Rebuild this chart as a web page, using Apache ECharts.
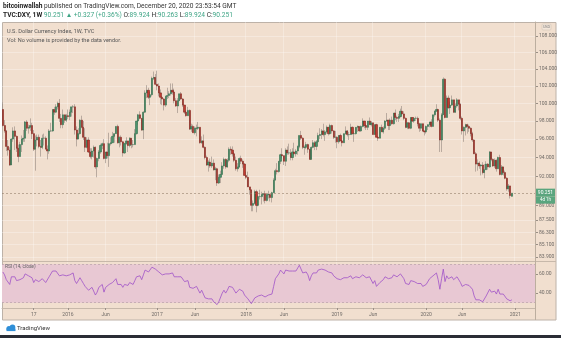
<!DOCTYPE html>
<html><head><meta charset="utf-8">
<script src="https://cdn.jsdelivr.net/npm/echarts@6/dist/echarts.min.js"></script>
<style>html,body{margin:0;padding:0;background:#fff;}#c{width:561px;height:338px;}</style>
</head><body><div id="c"></div>
<script>
// Weekly TVC:DXY candles, week of 2015-04-13 .. week of 2020-12-21
const opens = [
99.3,97.5,96.9,95.2,94.8,93.2,96.0,96.9,96.3,95.0,
94.1,95.4,96.0,96.1,97.9,97.2,97.3,97.5,96.6,94.9,
95.9,96.2,95.2,95.1,96.1,96.1,94.9,94.7,96.9,96.9,
99.3,99.0,99.6,100.0,98.3,97.6,98.7,98.1,98.6,98.5,
99.0,99.6,99.6,97.0,96.0,96.6,98.1,97.3,96.2,95.1,
95.9,94.6,94.1,94.7,95.1,93.0,93.9,94.6,95.3,95.5,
93.9,94.6,94.2,95.5,95.6,96.3,96.6,97.4,95.6,96.2,
95.7,94.5,95.5,95.8,95.3,96.1,95.4,95.4,96.6,98.0,
98.7,98.3,97.0,99.0,101.2,101.5,100.7,101.0,102.9,103.0,
102.2,102.0,101.2,100.7,100.5,99.8,100.8,100.9,101.1,101.5,
101.3,100.3,99.7,100.3,101.1,100.5,99.8,99.0,98.6,99.2,
97.1,97.4,96.7,97.2,97.2,97.3,95.6,95.8,95.1,94.0,
93.2,93.5,93.1,93.4,92.7,92.8,91.3,91.9,92.2,93.1,
93.8,93.0,93.7,94.9,94.8,94.4,93.7,92.8,93.0,93.9,
93.6,93.3,92.1,91.9,90.9,90.6,89.0,89.2,90.4,89.0,
89.9,89.9,90.1,90.2,89.5,90.1,90.1,89.8,90.3,91.6,
92.6,92.5,93.6,94.3,94.2,93.6,94.8,94.5,94.5,94.0,
94.6,94.4,94.7,95.2,96.4,96.1,95.1,95.1,95.4,94.9,
93.8,95.1,95.6,95.2,95.7,96.4,96.5,96.9,96.5,96.8,
97.3,96.6,97.5,96.9,96.2,96.2,95.7,96.4,95.8,95.6,
96.6,96.9,96.5,96.5,97.3,96.6,96.6,97.3,97.4,96.9,
97.4,98.0,97.5,97.3,98.0,97.6,97.8,96.5,97.6,96.2,
96.1,97.3,96.8,97.2,98.0,98.1,97.5,98.1,97.7,98.9,
98.4,98.3,98.5,99.1,98.8,98.3,97.3,97.8,97.2,98.4,
98.0,98.3,98.3,97.7,97.2,97.7,96.9,96.8,97.4,97.6,
97.9,97.4,98.7,99.1,99.3,98.1,95.9,98.7,102.8,98.4,
100.6,99.5,99.8,100.4,99.0,99.7,100.4,99.9,98.3,96.9,
97.3,97.6,97.4,97.2,96.6,95.9,94.4,93.3,93.4,93.1,
93.2,92.4,92.7,93.3,93.0,94.6,93.8,93.1,93.7,92.8,
94.0,92.2,93.0,92.4,91.8,90.7,91.0,89.924];
const closes = [
97.5,96.9,95.2,94.8,93.2,96.0,96.9,96.3,95.0,94.1,
95.4,96.0,96.1,97.9,97.2,97.3,97.5,96.6,94.9,95.9,
96.2,95.2,95.1,96.1,96.1,94.9,94.7,96.9,96.9,99.3,
99.0,99.6,100.0,98.3,97.6,98.7,98.1,98.6,98.5,99.0,
99.6,99.6,97.0,96.0,96.6,98.1,97.3,96.2,95.1,95.9,
94.6,94.1,94.7,95.1,93.0,93.9,94.6,95.3,95.5,93.9,
94.6,94.2,95.5,95.6,96.3,96.6,97.4,95.6,96.2,95.7,
94.5,95.5,95.8,95.3,96.1,95.4,95.4,96.6,98.0,98.7,
98.3,97.0,99.0,101.2,101.5,100.7,101.0,102.9,103.0,102.2,
102.0,101.2,100.7,100.5,99.8,100.8,100.9,101.1,101.5,101.3,
100.3,99.7,100.3,101.1,100.5,99.8,99.0,98.6,99.2,97.1,
97.4,96.7,97.2,97.2,97.3,95.6,95.8,95.1,94.0,93.2,
93.5,93.1,93.4,92.7,92.8,91.3,91.9,92.2,93.1,93.8,
93.0,93.7,94.9,94.8,94.4,93.7,92.8,93.0,93.9,93.6,
93.3,92.1,91.9,90.9,90.6,89.0,89.2,90.4,89.0,89.9,
89.9,90.1,90.2,89.5,90.1,90.1,89.8,90.3,91.6,92.6,
92.5,93.6,94.3,94.2,93.6,94.8,94.5,94.5,94.0,94.6,
94.4,94.7,95.2,96.4,96.1,95.1,95.1,95.4,94.9,93.8,
95.1,95.6,95.2,95.7,96.4,96.5,96.9,96.5,96.8,97.3,
96.6,97.5,96.9,96.2,96.2,95.7,96.4,95.8,95.6,96.6,
96.9,96.5,96.5,97.3,96.6,96.6,97.3,97.4,96.9,97.4,
98.0,97.5,97.3,98.0,97.6,97.8,96.5,97.6,96.2,96.1,
97.3,96.8,97.2,98.0,98.1,97.5,98.1,97.7,98.9,98.4,
98.3,98.5,99.1,98.8,98.3,97.3,97.8,97.2,98.4,98.0,
98.3,98.3,97.7,97.2,97.7,96.9,96.8,97.4,97.6,97.9,
97.4,98.7,99.1,99.3,98.1,95.9,98.7,102.8,98.4,100.6,
99.5,99.8,100.4,99.0,99.7,100.4,99.9,98.3,96.9,97.3,
97.6,97.4,97.2,96.6,95.9,94.4,93.3,93.4,93.1,93.2,
92.4,92.7,93.3,93.0,94.6,93.8,93.1,93.7,92.8,94.0,
92.2,93.0,92.4,91.8,90.7,91.0,90.0,90.251];
const highs = [
100.1,98.1,97.0,95.9,95.1,96.1,97.3,97.4,96.4,95.4,
95.7,96.4,97.0,98.0,98.1,97.6,98.3,97.8,97.0,96.4,
96.5,96.5,95.9,96.5,96.6,96.3,95.3,97.1,97.8,99.3,
99.6,99.9,100.2,100.5,98.8,99.3,98.7,98.8,99.3,99.3,
99.6,99.8,99.9,97.4,97.2,98.2,98.6,98.0,97.2,96.2,
96.2,95.0,95.0,95.3,95.2,94.0,94.8,95.5,95.6,96.0,
94.6,95.6,96.7,96.2,96.8,96.6,97.4,97.6,96.3,96.4,
95.8,95.6,96.2,95.8,96.2,96.1,95.9,97.1,98.0,98.8,
99.1,98.3,99.1,101.5,102.1,101.8,101.3,103.1,103.7,103.4,
103.8,102.3,101.6,100.8,100.6,100.9,101.8,101.4,102.3,102.3,
101.7,100.6,100.6,101.1,101.3,100.6,99.8,99.2,99.6,99.3,
97.7,97.6,97.4,97.6,97.9,97.3,96.3,96.5,95.2,94.2,
93.7,93.9,94.1,93.8,93.0,92.9,92.2,92.6,93.5,94.0,
93.9,93.9,95.1,95.2,95.2,94.6,94.1,93.4,94.0,94.2,
93.8,93.4,92.5,92.5,90.9,90.6,89.5,90.6,90.6,90.0,
90.6,90.4,90.2,90.5,90.2,90.5,90.2,90.4,91.8,92.8,
93.4,93.6,94.4,95.0,94.2,95.0,95.2,95.5,94.9,95.0,
95.6,94.9,95.3,96.4,96.9,96.2,95.3,95.7,95.5,94.9,
95.2,95.9,95.8,95.9,96.7,97.2,97.1,97.7,97.0,97.5,
97.3,97.7,97.6,97.0,96.9,96.3,96.4,96.6,95.9,96.6,
97.4,97.0,96.8,97.7,97.4,96.8,97.3,97.5,97.4,97.5,
98.3,98.0,97.7,98.0,98.4,98.0,97.8,97.6,97.7,96.3,
97.3,97.6,97.4,98.1,98.9,98.1,98.3,98.5,98.9,99.3,
98.6,98.8,99.4,99.7,99.1,98.4,97.9,97.9,98.4,98.4,
98.4,98.5,98.5,97.8,97.7,97.7,96.9,97.5,97.6,97.9,
98.2,98.7,99.2,99.9,99.4,98.3,98.9,103.0,102.9,100.9,
100.9,100.2,100.9,100.4,100.0,100.6,100.4,100.0,98.5,97.4,
97.7,97.7,97.6,97.3,96.8,96.0,94.6,93.8,93.6,93.3,
93.5,93.3,93.6,93.4,94.7,94.6,93.9,93.9,93.8,94.1,
94.3,93.2,93.0,92.6,91.9,91.2,91.0,90.263];
const lows = [
97.4,96.7,94.7,94.2,93.1,93.2,95.7,94.8,94.6,93.5,
94.1,94.6,95.7,95.7,96.9,96.6,96.9,96.0,94.7,92.6,
95.2,95.0,94.1,94.9,95.3,94.9,93.8,94.4,96.8,96.8,
98.7,98.9,99.3,97.9,97.2,97.2,97.8,97.9,98.2,98.1,
98.5,98.9,96.5,95.2,96.0,96.5,97.2,95.9,94.6,95.0,
94.5,93.9,93.8,94.0,92.8,91.9,93.6,94.4,94.9,93.8,
93.4,93.9,93.0,95.3,95.6,95.6,96.6,95.5,95.1,95.3,
94.1,94.4,95.4,94.6,95.1,95.0,95.1,95.4,96.5,97.6,
98.2,96.9,96.0,98.9,100.6,100.5,99.8,100.8,102.7,102.1,
101.5,100.8,99.9,99.8,99.2,99.6,100.5,100.6,100.9,101.0,
100.0,99.6,98.9,100.3,100.4,99.6,98.8,98.5,98.6,97.0,
96.8,96.7,96.5,96.3,97.0,95.5,95.5,95.0,93.8,93.1,
92.5,92.9,92.9,92.6,91.6,91.0,91.2,91.3,92.2,92.8,
92.8,92.9,93.5,94.3,94.1,93.5,92.6,92.5,92.9,93.3,
92.9,92.1,91.7,90.9,90.1,88.4,88.4,89.1,88.3,88.9,
89.6,89.1,89.4,89.2,89.4,89.7,89.4,89.3,90.3,91.6,
92.2,92.4,93.3,93.9,93.2,93.1,94.3,94.3,93.7,93.7,
94.2,94.1,94.3,95.0,95.9,94.9,94.3,94.9,94.5,93.8,
93.8,95.0,94.8,94.8,95.7,96.0,96.0,96.3,95.8,96.6,
96.4,96.5,96.6,96.0,95.6,95.0,95.5,95.8,95.2,95.6,
96.5,96.3,95.9,96.5,96.5,95.7,96.5,96.8,96.8,96.8,
97.3,97.2,97.0,97.0,97.6,97.4,96.5,96.5,96.2,95.8,
96.1,96.8,96.6,97.0,97.9,97.0,97.0,97.6,97.6,98.1,
97.9,97.9,98.4,98.6,98.1,97.2,97.1,97.1,97.1,97.9,
97.8,98.0,97.4,96.8,96.9,96.8,96.4,96.6,97.0,97.3,
97.3,97.4,98.5,99.1,97.9,94.6,94.6,98.7,98.3,98.4,
99.4,98.8,99.7,98.9,98.9,99.5,99.2,98.1,96.5,95.7,
96.4,96.6,96.8,96.3,95.7,94.4,92.5,92.6,92.8,92.1,
92.2,91.8,92.7,92.7,92.9,93.6,93.0,92.9,92.5,92.8,
92.1,92.1,92.1,91.7,90.5,90.4,89.7,89.924];
// RSI (14, close)
const rsiValues = [
62,59,54,53,49,57,59,57,53,51,
54,56,56,60,58,58,59,56,51,54,
55,52,52,55,55,51,51,57,57,63,
62,63,64,58,56,59,57,58,58,59,
61,61,53,50,52,56,53,50,47,49,
43,41,46,47,38,41,46,48,49,41,
46,45,49,49,51,52,55,49,51,49,
46,49,50,48,51,49,49,53,57,59,
58,54,59,64,65,62,63,67,69,65,
64,62,60,59,57,60,60,60,61,61,
57,55,57,59,57,55,52,51,53,46,
47,45,47,47,47,40,43,39,35,33,
34,32,34,31,32,28,31,32,40,43,
40,43,47,47,46,43,40,41,44,43,
42,38,37,34,33,29,30,35,34,37,
37,38,38,36,38,38,37,39,47,55,
54,60,64,63,60,64,63,63,61,63,
62,63,64,69,67,61,61,62,59,53,
58,61,59,61,64,64,65,63,64,65,
62,64,61,58,57,55,56,54,53,56,
57,56,56,58,55,55,57,58,56,57,
59,57,56,58,57,57,50,53,47,46,
51,53,54,57,57,55,57,56,59,57,
57,58,60,59,55,50,52,49,53,51,
52,52,50,48,50,47,47,49,50,55,
53,58,60,61,54,44,55,65,52,58,
55,56,57,54,55,57,56,51,47,48,
49,48,48,46,44,37,33,34,33,33,
31,33,37,36,44,41,40,42,39,44,
39,41,39,37,34,35,32,33];
const priceTicks = [108,106,104,102,100,98,96,94,92,89,87.5,86.3,85.1,83.9];
const rsiTicks = [60,40];
const timeTickLabels = {'2015-08-17':'17','2016-01-04':'2016','2016-06-06':'Jun','2017-01-02':'2017','2017-06-05':'Jun','2018-01-01':'2018','2018-06-04':'Jun','2019-01-07':'2019','2019-06-03':'Jun','2020-01-06':'2020','2020-06-01':'Jun','2021-01-04':'2021'};
const lastPrice = 90.251;
const blankWeeks = 13;

const dates = [];
const t0 = Date.UTC(2015,3,13);
for (let i = 0; i < closes.length + blankWeeks; i++) dates.push(new Date(t0 + i*7*86400000).toISOString().slice(0,10));

const wickData = opens.map((o,i)=>[o, closes[i], lows[i], highs[i]]);
const bodyData = opens.map((o,i)=>[o, closes[i], Math.min(o,closes[i]), Math.max(o,closes[i])]);

const FONT = 'Roboto, Arial, sans-serif';
const isLabelDate = (idx, v) => timeTickLabels[v] !== undefined;
const BG = '#f1dfcf';

const chart = echarts.init(document.getElementById('c'), null, {renderer:'canvas'});
const option = {
  animation: false,
  backgroundColor: '#ffffff',
  textStyle: {fontFamily: FONT},
  grid: [
    {left: 2, width: 533, top: 22, height: 239},
    {left: 2, width: 533, top: 261, height: 47}
  ],
  xAxis: [
    {type:'category', gridIndex:0, data: dates, boundaryGap: true,
     axisLine:{show:false}, axisLabel:{show:false},
     axisTick:{show:false, alignWithLabel:true, interval:isLabelDate},
     splitLine:{show:true, interval:isLabelDate, lineStyle:{color:'rgba(255,255,255,0.28)', width:1}}},
    {type:'category', gridIndex:1, data: dates, boundaryGap: true,
     axisLine:{show:true, lineStyle:{color:'#c7b8aa', width:1}},
     axisTick:{show:true, alignWithLabel:true, interval:isLabelDate, length:2, lineStyle:{color:'#9a8f86'}},
     axisLabel:{show:true, interval:isLabelDate, formatter:(v)=>timeTickLabels[v]||'', fontSize:5, color:'#6f6a66', margin:4},
     splitLine:{show:true, interval:isLabelDate, lineStyle:{color:'rgba(255,255,255,0.22)', width:1}}}
  ],
  yAxis: [
    {type:'log', gridIndex:0, position:'right', min:83.52, max:109.74, logBase:10,
     axisLine:{show:true, lineStyle:{color:'#bcae9f'}},
     axisTick:{show:true, length:3, customValues: priceTicks, lineStyle:{color:'#9a8f86'}},
     axisLabel:{show:true, customValues: priceTicks, formatter:(v)=>Number(v).toFixed(3), fontSize:5, color:'#6f6a66', margin:4},
     splitLine:{show:true, lineStyle:{color:'rgba(255,255,255,0.3)', width:1}}},
    {type:'value', gridIndex:1, position:'right', min:24.48, max:73.44,
     axisLine:{show:true, lineStyle:{color:'#bcae9f'}},
     axisTick:{show:true, length:3, customValues: rsiTicks, lineStyle:{color:'#9a8f86'}},
     axisLabel:{show:true, customValues: rsiTicks, formatter:(v)=>Number(v).toFixed(2), fontSize:5, color:'#6f6a66', margin:4},
     splitLine:{show:false}}
  ],
  series: [
    {type:'candlestick', name:'wick', xAxisIndex:0, yAxisIndex:0, data: wickData, barWidth: 0.6,
     itemStyle:{color:'#a69b94', color0:'#a69b94', borderColor:'rgba(140,128,120,0.7)', borderColor0:'rgba(140,128,120,0.7)', borderWidth:0.8},
     markLine:{silent:true, symbol:'none', label:{show:false},
       lineStyle:{color:'rgba(140,118,98,0.55)', type:[2,2], width:1},
       data:[{yAxis:lastPrice}]}},
    {type:'candlestick', name:'body', xAxisIndex:0, yAxisIndex:0, data: bodyData, barWidth: 1.6,
     itemStyle:{color:'#4b946c', color0:'#c23b30', borderColor:'#2f6d4b', borderColor0:'#7e241d', borderWidth:0.6}},
    {type:'line', name:'RSI', xAxisIndex:1, yAxisIndex:1, data: rsiValues, symbol:'none',
     lineStyle:{color:'#a052c8', width:0.8}, z:5,
     markArea:{silent:true, itemStyle:{color:'#e8c8d3'}, data:[[{yAxis:30},{yAxis:70}]]},
     markLine:{silent:true, symbol:'none', label:{show:false},
       lineStyle:{color:'rgba(150,130,140,0.7)', type:[2,2], width:0.6},
       data:[{yAxis:70},{yAxis:30}]}}
  ]
};
chart.setOption(option);

const py = chart.convertToPixel({yAxisIndex:0}, lastPrice);
chart.setOption({graphic: [
  {type:'rect', z:-10, silent:true, shape:{x:2.5, y:22.5, width:553.5, height:297.5}, style:{fill:BG, stroke:'#bdb2a8', lineWidth:1}},
  {type:'line', z:10, silent:true, shape:{x1:2.5, y1:261.5, x2:556, y2:261.5}, style:{stroke:'#c7b8aa', lineWidth:1}},
  {type:'line', z:10, silent:true, shape:{x1:535.5, y1:22.5, x2:535.5, y2:320}, style:{stroke:'#bcae9f', lineWidth:1}},
  {type:'text', z:10, left:3, top:3, style:{text:'{b|bitcoinwallah} published on TradingView.com, December 20, 2020 23:53:54 GMT', font:'6.6px '+FONT, fill:'#333',
    rich:{b:{fontWeight:'bold', fontSize:6.6, fontFamily:FONT, fill:'#222'}}}},
  {type:'text', z:10, left:3, top:12, style:{text:'{b|TVC:DXY, 1W} {g|90.251 ▲ +0.327 (+0.36%)} O:{g|89.924} H:{g|90.263} L:{g|89.924} C:{g|90.251}', font:'6.6px '+FONT, fill:'#333',
    rich:{b:{fontWeight:'bold', fontSize:6.6, fontFamily:FONT, fill:'#222'}, g:{fontSize:6.6, fontFamily:FONT, fill:'#3fa586'}}}},
  {type:'text', z:10, left:7, top:29, style:{text:'U.S. Dollar Currency Index, 1W, TVC', font:'5.6px '+FONT, fill:'#555'}},
  {type:'text', z:10, left:7, top:37.5, style:{text:'Vol: No volume is provided by the data vendor.', font:'5.6px '+FONT, fill:'#555'}},
  {type:'text', z:10, left:5, top:264, style:{text:'RSI (14, close)', font:'4.8px '+FONT, fill:'#666'}},
  {type:'rect', z:10, shape:{x:542, y:24, width:9, height:6, r:1}, style:{fill:'#f3e6da', stroke:'#c9bcae', lineWidth:0.5}},
  {type:'text', z:11, x:546.5, y:27, style:{text:'USD', font:'3.8px '+FONT, fill:'#777', align:'center', verticalAlign:'middle'}},
  {type:'rect', z:10, shape:{x:536, y:py-4.5, width:19, height:8}, style:{fill:'#5aa57e'}},
  {type:'text', z:11, x:545.5, y:py, style:{text:'90.251', font:'5px '+FONT, fill:'#fff', align:'center', verticalAlign:'middle'}},
  {type:'rect', z:10, shape:{x:536, y:py+3.5, width:19, height:7}, style:{fill:'#5aa57e'}},
  {type:'text', z:11, x:545.5, y:py+7, style:{text:'4d 1h', font:'4.5px '+FONT, fill:'#fff', align:'center', verticalAlign:'middle'}},
  {type:'circle', z:10, shape:{cx:9, cy:328.5, r:2.6}, style:{fill:'#2f8fd8'}},
  {type:'circle', z:10, shape:{cx:12.5, cy:327.3, r:2.8}, style:{fill:'#2f8fd8'}},
  {type:'rect', z:10, shape:{x:6.5, y:328.5, width:9, height:2.6}, style:{fill:'#2f8fd8'}},
  {type:'text', z:10, left:17, top:325, style:{text:'TradingView', font:'6px '+FONT, fill:'#333'}},
  {type:'rect', z:10, shape:{x:0, y:335, width:561, height:3}, style:{fill:'#2a2d35'}}
]});
</script></body></html>
